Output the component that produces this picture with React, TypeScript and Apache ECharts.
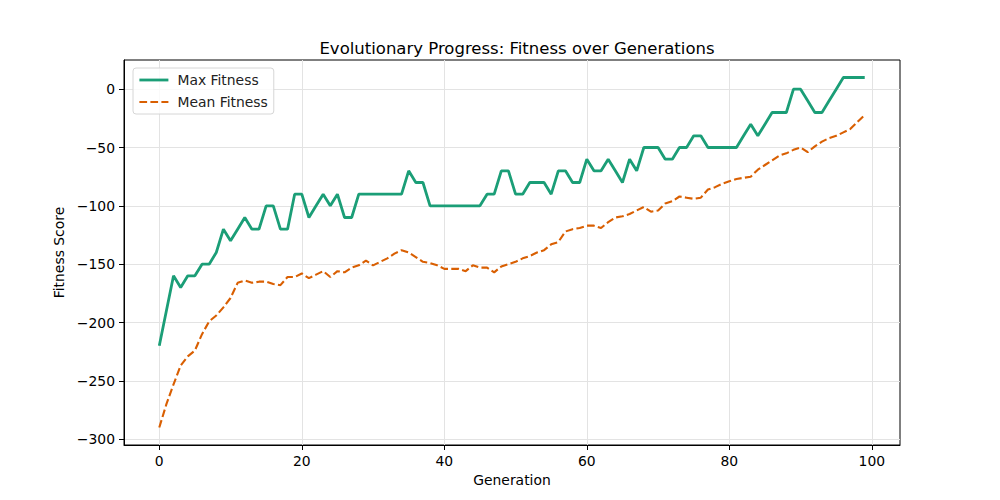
import { useEffect, useRef } from "react";
import * as echarts from "echarts";

const generations = Array.from({ length: 100 }, (_, i) => i);

const maxFitness = [
  -220, -190, -160, -170, -160, -160, -150, -150, -140, -120,
  -130, -120, -110, -120, -120, -100, -100, -120, -120, -90,
  -90, -110, -100, -90, -100, -90, -110, -110, -90, -90,
  -90, -90, -90, -90, -90, -70, -80, -80, -100, -100,
  -100, -100, -100, -100, -100, -100, -90, -90, -70, -70,
  -90, -90, -80, -80, -80, -90, -70, -70, -80, -80,
  -60, -70, -70, -60, -70, -80, -60, -70, -50, -50,
  -50, -60, -60, -50, -50, -40, -40, -50, -50, -50,
  -50, -50, -40, -30, -40, -30, -20, -20, -20, 0,
  0, -10, -20, -20, -10, 0, 10, 10, 10, 10
];

const meanFitness = [
  -290, -270, -253, -237, -229, -224, -210, -199, -194, -187,
  -179, -166, -164, -166, -165, -165, -167, -168, -161, -161,
  -158, -162, -159, -156, -161, -156, -157, -153, -151, -147,
  -151, -148, -145, -141, -138, -140, -144, -148, -149, -151,
  -154, -154, -154, -156, -151, -153, -153, -157, -152, -150,
  -148, -145, -143, -140, -138, -133, -131, -122, -120, -119,
  -117, -117, -119, -114, -110, -109, -107, -104, -101, -105,
  -104, -98, -96, -92, -93, -94, -93, -86, -84, -81,
  -79, -77, -76, -75, -69, -65, -61, -57, -55, -52,
  -50, -54, -49, -45, -42, -40, -37, -34, -28, -22
];

const xTicks = [0, 20, 40, 60, 80, 100];
const yTicks = [-300, -250, -200, -150, -100, -50, 0];

const FONT = "DejaVu Sans";
const minus = (v: number) => String(v).replace("-", "\u2212");

export default function App() {
  const ref = useRef<HTMLDivElement | null>(null);

  useEffect(() => {
    if (!ref.current) {
      return;
    }
    const instance = echarts.init(ref.current, null, { renderer: "svg" });
    const gridLines = [
      ...xTicks.map((x) => ({ xAxis: x })),
      ...yTicks.map((y) => ({ yAxis: y }))
    ];

    instance.setOption({
      animation: false,
      textStyle: { fontFamily: FONT },
      title: {
        text: "Evolutionary Progress: Fitness over Generations",
        left: 512,
        top: 35,
        textAlign: "center",
        textStyle: { fontFamily: FONT, fontSize: 16.5, fontWeight: "normal", color: "#000" }
      },
      grid: {
        left: 124,
        right: 100,
        top: 60,
        bottom: 55,
        show: true,
        borderColor: "#000",
        borderWidth: 1
      },
      legend: {
        orient: "vertical",
        left: 133,
        top: 68,
        padding: [5, 6, 5, 5],
        itemWidth: 29,
        itemHeight: 12,
        itemGap: 8,
        borderColor: "#d6d6d6",
        borderWidth: 1,
        borderRadius: 3,
        backgroundColor: "rgba(255,255,255,0.8)",
        itemStyle: { opacity: 0 },
        lineStyle: { width: "inherit" },
        textStyle: { fontFamily: FONT, fontSize: 13.9, color: "#222", padding: [0, 0, 0, 4] },
        data: ["Max Fitness", "Mean Fitness"]
      },
      xAxis: {
        type: "value",
        min: -4.95,
        max: 103.95,
        name: "Generation",
        nameLocation: "middle",
        nameGap: 28,
        nameTextStyle: { fontFamily: FONT, fontSize: 13.9, color: "#000" },
        axisLine: { onZero: false, lineStyle: { color: "#000", width: 1 } },
        axisTick: { show: true, length: 5, customValues: xTicks, lineStyle: { color: "#000" } },
        axisLabel: {
          customValues: xTicks,
          margin: 9,
          fontFamily: FONT,
          fontSize: 13.9,
          color: "#000",
          formatter: (v: number) => minus(v)
        },
        splitLine: { show: false }
      },
      yAxis: {
        type: "value",
        min: -305,
        max: 25,
        name: "Fitness Score",
        nameLocation: "middle",
        nameGap: 50,
        nameTextStyle: { fontFamily: FONT, fontSize: 13.9, color: "#000" },
        axisLine: { show: true, onZero: false, lineStyle: { color: "#000", width: 1 } },
        axisTick: { show: true, length: 5, customValues: yTicks, lineStyle: { color: "#000" } },
        axisLabel: {
          customValues: yTicks,
          margin: 9,
          fontFamily: FONT,
          fontSize: 13.9,
          color: "#000",
          formatter: (v: number) => minus(v)
        },
        splitLine: { show: false }
      },
      series: [
        {
          name: "grid",
          type: "line",
          data: [[generations[0], maxFitness[0]]],
          showSymbol: false,
          silent: true,
          z: 0,
          lineStyle: { opacity: 0 },
          markLine: {
            silent: true,
            symbol: "none",
            z: 0,
            animation: false,
            label: { show: false },
            lineStyle: { color: "#e3e3e3", width: 1, type: "solid" },
            data: gridLines
          }
        },
        {
          name: "Max Fitness",
          type: "line",
          data: generations.map((g, i) => [g, maxFitness[i]]),
          showSymbol: false,
          symbol: "none",
          z: 3,
          color: "#1b9e77",
          lineStyle: { color: "#1b9e77", width: 2.8 }
        },
        {
          name: "Mean Fitness",
          type: "line",
          data: generations.map((g, i) => [g, meanFitness[i]]),
          showSymbol: false,
          symbol: "none",
          z: 2,
          color: "#d95f02",
          lineStyle: { color: "#d95f02", width: 2.1, type: [7.7, 3.3] }
        }
      ]
    });

    return () => {
      instance.dispose();
    };
  }, []);

  return (
    <div
      ref={ref}
      style={{ position: "fixed", left: 0, top: 0, width: 1000, height: 500, background: "#fff" }}
    />
  );
}
